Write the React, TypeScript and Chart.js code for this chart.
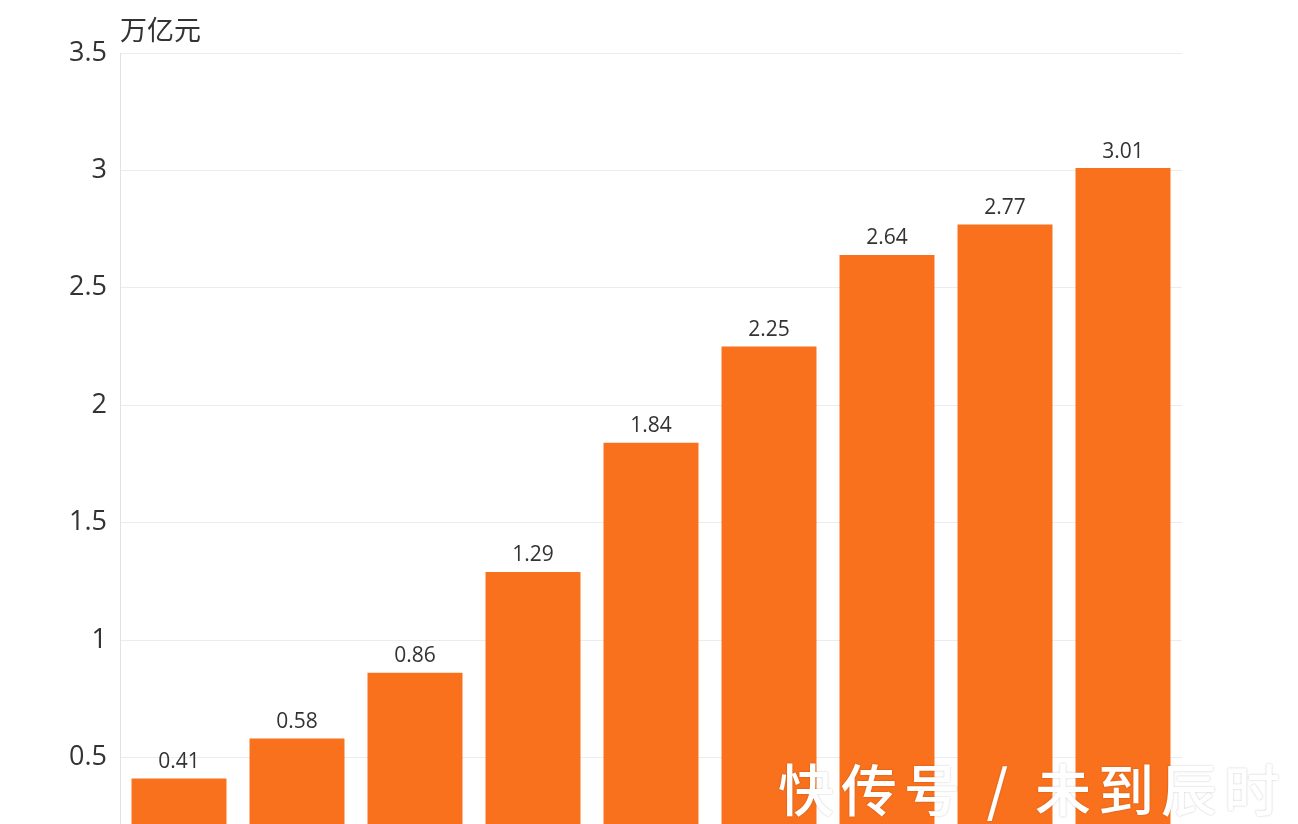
import React, { useEffect, useRef } from "react";
import { Chart, registerables } from "chart.js";

Chart.register(...registerables);

const categories = ["2013", "2014", "2015", "2016", "2017", "2018", "2019", "2020", "2021"];
const values = [0.41, 0.58, 0.86, 1.29, 1.84, 2.25, 2.64, 2.77, 3.01];
const yTicks = [0, 0.5, 1, 1.5, 2, 2.5, 3, 3.5];
const unitLabel = "万亿元";
const watermark = "快传号 / 未到辰时";

const BAR_COLOR = "#F9711C";
const TEXT_COLOR = "#333333";

export default function App() {
  const ref = useRef<HTMLCanvasElement | null>(null);

  useEffect(() => {
    const canvas = ref.current;
    if (!canvas) return;
    const labelPlugin = {
      id: "valueLabels",
      afterDatasetsDraw(chart: any) {
        const ctx = chart.ctx;
        const meta = chart.getDatasetMeta(0);
        ctx.save();
        ctx.fillStyle = TEXT_COLOR;
        ctx.font = '21px "Open Sans", "Noto Sans", sans-serif';
        ctx.textAlign = "center";
        ctx.textBaseline = "bottom";
        meta.data.forEach((bar: any, i: number) => {
          ctx.fillText(values[i].toFixed(2), bar.x, bar.y - 6);
        });
        ctx.font = '27px "Noto Sans CJK SC", sans-serif';
        ctx.textAlign = "left";
        ctx.textBaseline = "middle";
        ctx.fillText(unitLabel, chart.chartArea.left, 30);
        ctx.restore();
      },
    };
    const chart = new Chart(canvas, {
      type: "bar",
      data: {
        labels: categories,
        datasets: [
          {
            data: values,
            backgroundColor: BAR_COLOR,
            borderWidth: 0,
            barPercentage: 0.805,
            categoryPercentage: 1,
          },
        ],
      },
      options: {
        responsive: false,
        animation: false,
        layout: { padding: { top: 53, right: 116, bottom: 0, left: 0 } },
        plugins: { legend: { display: false }, tooltip: { enabled: false } },
        scales: {
          x: { display: false },
          y: {
            min: 0,
            max: 3.5,
            afterBuildTicks(scale: any) {
              scale.ticks = yTicks.map((v) => ({ value: v }));
            },
            afterFit(scale: any) {
              scale.width = 120;
            },
            grid: { color: "#ececf0", drawTicks: false, lineWidth: 1 },
            border: { color: "#e2e2e6" },
            ticks: {
              padding: 13,
              color: TEXT_COLOR,
              font: { family: '"Open Sans", "Noto Sans", sans-serif', size: 27 },
              callback: (v: any) => String(v),
            },
          },
        },
      },
      plugins: [labelPlugin],
    });
    return () => chart.destroy();
  }, []);

  return (
    <div
      style={{
        position: "fixed",
        left: 0,
        top: 0,
        width: 1298,
        height: 824,
        overflow: "hidden",
        background: "#ffffff",
      }}
    >
      <canvas ref={ref} width={1298} height={904} style={{ display: "block" }} />
      <div
        style={{
          position: "absolute",
          left: 778,
          top: 752,
          color: "#ffffff",
          fontFamily: '"Noto Sans CJK SC", sans-serif',
          fontSize: 56,
          fontWeight: 500,
          letterSpacing: 7,
          lineHeight: "70px",
          whiteSpace: "nowrap",
          textShadow: "0 0 2px rgba(0,0,0,0.25)",
        }}
      >
        {watermark}
      </div>
    </div>
  );
}
